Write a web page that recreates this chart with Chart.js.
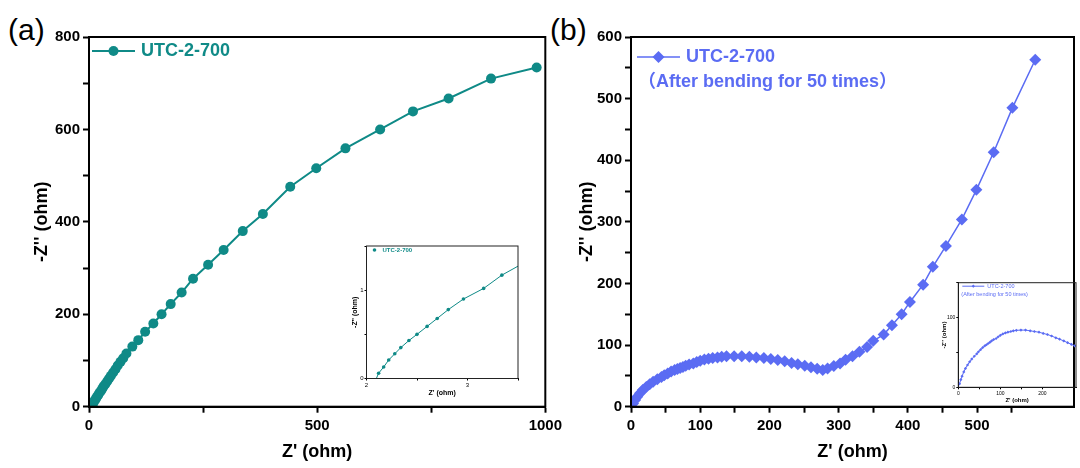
<!DOCTYPE html>
<html lang="en">
<head>
  <meta charset="UTF-8" />
  <title>UTC-2-700 Nyquist plots</title>
  <script src="https://cdn.jsdelivr.net/npm/chart.js@4.4.1/dist/chart.umd.min.js"></script>
  <style>
    body { margin: 0; background: #fff; width: 1080px; height: 468px; position: relative; overflow: hidden;
           font-family: Arial, "Liberation Sans", sans-serif; }
    canvas { position: absolute; }
    .tag { position: absolute; font-size: 30px; line-height: 30px; color: #000; }
  </style>
</head>
<body>
<div class="tag" style="left:8px;top:15px">(a)</div>
<div class="tag" style="left:550px;top:15px">(b)</div>
<canvas id="chartA" width="566" height="468" style="left:0;top:0"></canvas>
<canvas id="chartB" width="540" height="468" style="left:540px;top:0"></canvas>
<canvas id="insetA" width="182" height="166" style="left:340px;top:238px"></canvas>
<canvas id="insetB" width="150" height="130" style="left:930px;top:276px"></canvas>

<script>
  const TEAL = "#0f8a87";
  const BLUE = "#5b6cf3";
  const FONT = "Arial, 'Liberation Sans', 'Noto Sans CJK SC', sans-serif";

  // (a) UTC-2-700 : Z' and -Z'' (ohm)
  const zReA = [6, 8, 10, 12, 15, 17, 20, 23, 26, 29, 32, 36, 40, 44, 48, 53, 58, 63, 69, 75,
    82, 95, 108, 123, 141, 159, 179, 203, 228, 261, 295, 337, 381, 441, 498, 562, 638, 710, 788, 881, 981];
  const zImA = [2, 5, 9, 13, 17, 21, 25, 30, 34, 39, 44, 49, 55, 61, 67, 74, 81, 89, 97, 105,
    115, 130, 144, 162, 180, 200, 222, 247, 277, 307, 339, 380, 417, 476, 516, 559, 600, 639, 667, 710, 734];

  // (a) inset: high-frequency end
  const zReInsetA = [2.09, 2.12, 2.17, 2.22, 2.28, 2.34, 2.42, 2.50, 2.60, 2.70, 2.81, 2.96, 3.16, 3.34, 3.56];
  const zImInsetA = [-0.02, 0.06, 0.13, 0.21, 0.28, 0.35, 0.43, 0.50, 0.59, 0.68, 0.78, 0.90, 1.02, 1.17, 1.31];

  // (b) UTC-2-700 after bending for 50 times
  const zReB = [3, 6, 9, 13, 17, 22, 27, 32, 38, 44, 48, 53, 58, 63, 67, 71, 75, 79, 84, 90,
    95, 100, 106, 112, 118, 125, 131, 138, 149, 160, 171, 181, 192, 202, 212, 222, 232, 241, 251, 260,
    269, 277, 284, 293, 302, 310, 320, 330, 341, 350, 365, 377, 391, 403, 422, 436, 455, 478, 499, 524,
    551, 584];
  const zImB = [5, 11, 16, 22, 27, 32, 36.5, 40.5, 44.5, 48, 51, 54, 57, 59.5, 61, 62.8, 64.5, 66.5, 68.5, 70,
    72.5, 74.6, 76.5, 78, 79, 80, 81, 81.7, 82, 82, 81, 80, 79, 77.3, 75.7, 73.6, 71, 69, 66.5, 64,
    61.6, 59.5, 62, 66, 70, 76, 82, 89, 97, 107, 117, 132, 150, 170, 198, 227, 261, 304, 352, 413,
    485, 563];

  // labelled ticks
  const xLabelsA = [0, 500, 1000];
  const yLabelsA = [0, 200, 400, 600, 800];
  const xLabelsB = [0, 100, 200, 300, 400, 500, 600];
  const yLabelsB = [0, 100, 200, 300, 400, 500, 600];
  const xLabelsInsetA = [2, 3];
  const yLabelsInsetA = [0, 1];
  const xLabelsInsetB = [0, 100, 200];
  const yLabelsInsetB = [0, 100];

  const pts = (xs, ys) => xs.map((x, i) => ({ x: x, y: ys[i] }));

  // box around the plot area
  const framePlugin = {
    id: "frame",
    afterDraw(chart, args, opts) {
      const { ctx, chartArea: a } = chart;
      ctx.save();
      ctx.strokeStyle = opts.color;
      ctx.lineWidth = opts.width;
      ctx.strokeRect(a.left, a.top, a.width, a.height);
      ctx.restore();
    }
  };

  // Origin-style legend: line + marker + text, inside the plot area
  const legendPlugin = {
    id: "boxLegend",
    afterDatasetsDraw(chart, args, o) {
      const { ctx, chartArea: a } = chart;
      const x0 = a.left + o.dx, y0 = a.top + o.dy;
      ctx.save();
      ctx.strokeStyle = o.color;
      ctx.fillStyle = o.color;
      ctx.lineWidth = o.lineWidth;
      if (o.len > 0) {
        ctx.beginPath();
        ctx.moveTo(x0, y0);
        ctx.lineTo(x0 + o.len, y0);
        ctx.stroke();
      }
      Chart.helpers.drawPoint(ctx, { pointStyle: o.pointStyle, radius: o.radius, borderWidth: 0, rotation: 0 },
        x0 + o.len / 2, y0);
      ctx.font = o.font;
      ctx.textBaseline = "middle";
      ctx.fillText(o.lines[0], x0 + o.len + o.gap, y0);
      for (let i = 1; i < o.lines.length; i++) {
        ctx.fillText(o.lines[i], a.left + o.dx2, y0 + i * o.lineGap);
      }
      ctx.restore();
    }
  };

  function axis(c) {
    return {
      type: "linear",
      min: c.min,
      max: c.max,
      afterBuildTicks: (s) => {
        s.ticks = s.ticks.filter((t) => Math.abs(t.value / c.step - Math.round(t.value / c.step)) < 1e-6);
      },
      ticks: {
        stepSize: c.step,
        autoSkip: false,
        maxRotation: 0,
        color: "#000",
        padding: c.tickPad,
        font: { family: FONT, size: c.tickSize, weight: c.tickWeight || "bold" },
        callback: (v) => (c.labels.includes(v) ? v : "")
      },
      grid: { drawOnChartArea: false, drawTicks: true, tickLength: c.tickLen, tickWidth: c.lineW, tickColor: "#000" },
      border: { color: "#000", width: c.lineW },
      title: {
        display: true,
        text: c.title,
        color: "#000",
        font: { family: FONT, size: c.titleSize, weight: "bold", lineHeight: 1.2 },
        padding: c.titlePad
      },
      afterFit: c.fit
    };
  }

  function makeChart(id, dataset, scales, pad, frame, legend) {
    return new Chart(document.getElementById(id), {
      type: "scatter",
      data: { datasets: [dataset] },
      options: {
        responsive: false,
        animation: false,
        devicePixelRatio: 1,
        layout: { padding: pad },
        plugins: {
          legend: { display: false },
          tooltip: { enabled: false },
          frame: frame,
          boxLegend: legend
        },
        scales: scales
      },
      plugins: [framePlugin, legendPlugin]
    });
  }

  // ---- (a) main
  makeChart("chartA",
    { label: "UTC-2-700", data: pts(zReA, zImA), showLine: true, borderColor: TEAL, backgroundColor: TEAL,
      borderWidth: 2, pointRadius: 5, pointStyle: "circle", pointBorderWidth: 0 },
    {
      x: axis({ min: 0, max: 1000, step: 250, labels: xLabelsA, tickSize: 15, tickPad: 4, tickLen: 6, lineW: 2,
        title: "Z' (ohm)", titleSize: 18, titlePad: { top: 0, bottom: 5 }, fit: (s) => { s.height = 61.3; } }),
      y: axis({ min: 0, max: 800, step: 100, labels: yLabelsA, tickSize: 15, tickPad: 3, tickLen: 6, lineW: 2,
        title: "-Z'' (ohm)", titleSize: 18, titlePad: { top: 31, bottom: 0 }, fit: (s) => { s.width = 89; } })
    },
    { left: 0, right: 20, top: 37, bottom: 0 },
    { color: "#000", width: 2 },
    { dx: 3, dy: 14, len: 43, gap: 6, radius: 5, pointStyle: "circle", color: TEAL, lineWidth: 2,
      font: "bold 18px " + FONT, lines: ["UTC-2-700"] }
  );

  // ---- (b) main
  makeChart("chartB",
    { label: "UTC-2-700", data: pts(zReB, zImB), showLine: true, borderColor: BLUE, backgroundColor: BLUE,
      borderWidth: 1.5, pointRadius: 6, pointStyle: "rectRot", pointBorderWidth: 0 },
    {
      x: axis({ min: 0, max: 640, step: 50, labels: xLabelsB, tickSize: 15, tickPad: 4, tickLen: 6, lineW: 2,
        title: "Z' (ohm)", titleSize: 18, titlePad: { top: 0, bottom: 5 }, fit: (s) => { s.height = 61.3; } }),
      y: axis({ min: 0, max: 600, step: 50, labels: yLabelsB, tickSize: 15, tickPad: 3, tickLen: 6, lineW: 2,
        title: "-Z'' (ohm)", titleSize: 18, titlePad: { top: 36, bottom: 0 }, fit: (s) => { s.width = 91; } })
    },
    { left: 0, right: 0, top: 37, bottom: 0 },
    { color: "#000", width: 2 },
    { dx: 6, dy: 20, len: 43, gap: 6, radius: 6, pointStyle: "rectRot", color: BLUE, lineWidth: 1.5,
      font: "bold 18px " + FONT, lines: ["UTC-2-700", "（After bending for 50 times）"], dx2: 7, lineGap: 25 }
  );

  // ---- (a) inset
  makeChart("insetA",
    { label: "UTC-2-700", data: pts(zReInsetA, zImInsetA), showLine: true, borderColor: TEAL, backgroundColor: TEAL,
      borderWidth: 1, pointRadius: 1.8, pointStyle: "circle", pointBorderWidth: 0 },
    {
      x: axis({ min: 2, max: 3.5, step: 0.5, labels: xLabelsInsetA, tickSize: 6, tickWeight: "normal", tickPad: 1,
        tickLen: 2, lineW: 1, title: "Z' (ohm)", titleSize: 7, titlePad: { top: 0, bottom: 7 },
        fit: (s) => { s.height = 25.5; } }),
      y: axis({ min: 0, max: 1.5, step: 0.5, labels: yLabelsInsetA, tickSize: 6, tickWeight: "normal", tickPad: 1,
        tickLen: 2, lineW: 1, title: "-Z'' (ohm)", titleSize: 7, titlePad: { top: 11, bottom: 0 },
        fit: (s) => { s.width = 26.5; } })
    },
    { left: 0, right: 3, top: 8, bottom: 0 },
    { color: "#222", width: 1 },
    { dx: 8, dy: 4, len: 0, gap: 8, radius: 1.8, pointStyle: "circle", color: TEAL, lineWidth: 1,
      font: "bold 6px " + FONT, lines: ["UTC-2-700"] }
  );

  // ---- (b) inset: same data, zoomed to the semicircle
  makeChart("insetB",
    { label: "UTC-2-700", data: pts(zReB, zImB), showLine: true, borderColor: BLUE, backgroundColor: BLUE,
      borderWidth: 1, pointRadius: 1.6, pointStyle: "rectRot", pointBorderWidth: 0 },
    {
      x: axis({ min: 0, max: 280, step: 50, labels: xLabelsInsetB, tickSize: 5, tickWeight: "normal", tickPad: 1,
        tickLen: 2, lineW: 1, title: "Z' (ohm)", titleSize: 6, titlePad: { top: 0, bottom: 2 },
        fit: (s) => { s.height = 18.7; } }),
      y: axis({ min: 0, max: 150, step: 50, labels: yLabelsInsetB, tickSize: 5, tickWeight: "normal", tickPad: 1,
        tickLen: 2, lineW: 1, title: "-Z'' (ohm)", titleSize: 6, titlePad: { top: 11, bottom: 0 },
        fit: (s) => { s.width = 28.3; } })
    },
    { left: 0, right: 0, top: 6.7, bottom: 0 },
    { color: "#222", width: 1 },
    { dx: 4, dy: 3.5, len: 22, gap: 3, radius: 1.6, pointStyle: "rectRot", color: BLUE, lineWidth: 1,
      font: "5.5px " + FONT, lines: ["UTC-2-700", "(After bending for 50 times)"], dx2: 3, lineGap: 8.5 }
  );
</script>
</body>
</html>
